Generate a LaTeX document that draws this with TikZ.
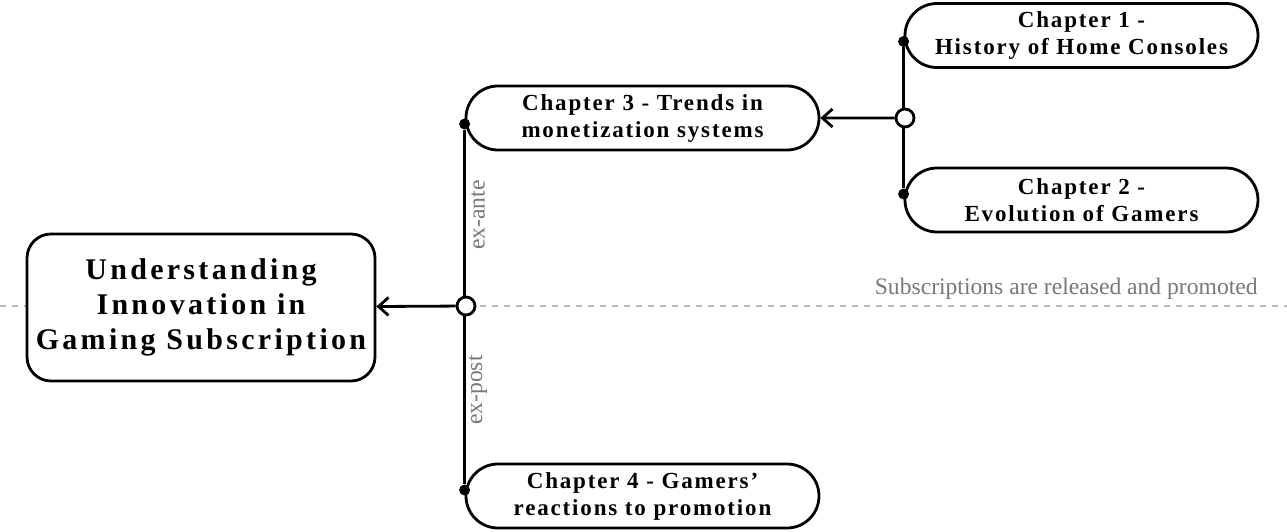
\documentclass[tikz,border=0pt]{standalone}
\usepackage{fontspec}
\setmainfont{Liberation Serif}
\newfontfamily\boxfont[LetterSpace=8]{Liberation Serif}
\newfontfamily\mainfont[LetterSpace=11]{Liberation Serif}
\usetikzlibrary{shapes.misc,arrows.meta}
\newdimen\unitsize
\setlength{\unitsize}{0.5pt}
\definecolor{notegray}{RGB}{120,120,120}
\definecolor{rulegray}{RGB}{185,185,185}

\begin{document}
\begin{tikzpicture}[x=\unitsize,y=-\unitsize,
  wire/.style={line width=1.4pt},
  chapbox/.style={draw,wire,fill=white,rounded rectangle,minimum width=176.5pt,
    minimum height=32pt,inner sep=0pt,align=center,
    font=\boxfont\bfseries\fontsize{11.5}{13.5}\selectfont},
  mainbox/.style={draw,wire,fill=white,rounded corners=12pt,minimum width=174pt,
    minimum height=73.5pt,inner sep=0pt,align=center,
    font=\mainfont\bfseries\fontsize{15}{17.5}\selectfont},
  chdot/.style={circle,fill=black,inner sep=0pt,minimum size=5.5pt},
  hub/.style={circle,draw,wire,fill=white,inner sep=0pt,minimum size=9pt},
  note/.style={text=notegray,font=\fontsize{11.8}{12}\selectfont,inner sep=0pt}]
\useasboundingbox (0,0) rectangle (1287,531);
\draw[rulegray,dashed,line width=0.6pt] (0,306) -- (1287,306);
\node[note,anchor=south east] (release) at (1258,300) {Subscriptions are released and promoted};
\node[mainbox] (main) at (201,307.5) {Understanding\\Innovation in\\Gaming Subscription};
\foreach \chname/\chx/\chy/\chtext in {
  c1/1081.5/35.5/{Chapter 1 -\\History of Home Consoles},
  c2/1081.5/200/{Chapter 2 -\\Evolution of Gamers},
  c3/642.5/118/{Chapter 3 - Trends in\\monetization systems},
  c4/642.5/496/{Chapter 4 - Gamers’\\reactions to promotion}}{
  \node[chapbox] (\chname) at (\chx,\chy) {\chtext};
}
\foreach \chname/\chdir in {c1/-3,c2/3,c3/-3,c4/3}{
  \node[chdot] (\chname dot) at ([yshift=\chdir pt]\chname.west) {};
}
\draw[wire] (c3dot) -- (c4dot);
\draw[wire] (c1dot) -- (c2dot);
\node[hub] (hubA) at (466,306) {};
\node[hub] (hubB) at (905,118) {};
\draw[wire,-{Straight Barb[length=5pt,width=9pt]}] (hubA) -- (main);
\draw[wire,-{Straight Barb[length=5pt,width=9pt]}] (hubB) -- (c3);
\node[note,rotate=90] (exante) at (478,215) {ex-ante};
\node[note,rotate=90] (expost) at (478,390) {ex-post};
\end{tikzpicture}
\end{document}
